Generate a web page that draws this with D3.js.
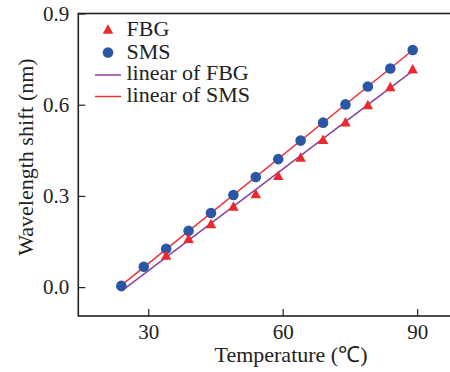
<!DOCTYPE html>
<html>
<head>
<meta charset="utf-8">
<script src="https://cdn.jsdelivr.net/npm/d3@7"></script>
<style>
  body { margin: 0; background: #fff; }
  text { font-family: "Liberation Serif", "Times New Roman", serif; fill: #222; }
</style>
</head>
<body>
<svg width="450" height="372"></svg>
<script>
// temperature (degC) and wavelength shift (nm)
var temps = [24, 29, 34, 39, 44, 49, 54, 59, 64, 69, 74, 79, 84, 89];
// FBG points at 24 and 29 are not visible in the figure
var fbg = [null, null, 0.106, 0.161, 0.209, 0.267, 0.308, 0.368, 0.428, 0.486, 0.544, 0.601, 0.660, 0.718];
var sms = [0.004, 0.067, 0.126, 0.185, 0.244, 0.303, 0.362, 0.421, 0.482, 0.541, 0.601, 0.660, 0.719, 0.780];
var xTicks = [30, 60, 90];
var yTicks = [0.0, 0.3, 0.6, 0.9];

var svg = d3.select("svg");
var mLeft = 78.3, mTop = 13.5, mBottom = 316, mRight = 462;

var x = d3.scaleLinear().domain([14.4, 100]).range([mLeft, mRight]);
var y = d3.scaleLinear().domain([-0.095, 0.9]).range([mBottom, mTop]);

// least squares fit (skips missing values)
function fit(xs, ys) {
  var pts = xs.map((v, i) => [v, ys[i]]).filter(p => p[1] != null);
  var mx = d3.mean(pts, p => p[0]), my = d3.mean(pts, p => p[1]);
  var sxy = d3.sum(pts, p => (p[0] - mx) * (p[1] - my));
  var sxx = d3.sum(pts, p => (p[0] - mx) * (p[0] - mx));
  var b = sxy / sxx;
  return { a: my - b * mx, b: b };
}

// axes (ticks inward)
svg.append("g")
  .attr("transform", "translate(0," + mBottom + ")")
  .call(d3.axisBottom(x).tickValues(xTicks).tickSize(-7).tickPadding(8).tickFormat(d3.format("d")))
  .call(g => g.select(".domain").remove())
  .call(g => g.selectAll("line").attr("stroke", "#222").attr("stroke-width", 1.2))
  .call(g => g.selectAll("text").attr("font-size", 21).style("font-family", "Liberation Serif").attr("fill", "#222"));

svg.append("g")
  .attr("transform", "translate(" + mLeft + ",0)")
  .call(d3.axisLeft(y).tickValues(yTicks).tickSize(-7).tickPadding(9).tickFormat(d3.format(".1f")))
  .call(g => g.select(".domain").remove())
  .call(g => g.selectAll("line").attr("stroke", "#222").attr("stroke-width", 1.2))
  .call(g => g.selectAll("text").attr("font-size", 21).style("font-family", "Liberation Serif").attr("fill", "#222"));

// frame
svg.append("rect")
  .attr("x", mLeft).attr("y", mTop)
  .attr("width", mRight - mLeft).attr("height", mBottom - mTop)
  .attr("fill", "none").attr("stroke", "#222").attr("stroke-width", 1.6);

// fit lines
var line = d3.line().x(d => x(d[0])).y(d => y(d[1]));
var ends = d3.extent(temps);
[[fbg, "#8b3f9c"], [sms, "#ee3035"]].forEach(function (s) {
  var f = fit(temps, s[0]);
  svg.append("path")
    .attr("d", line(ends.map(t => [t, f.a + f.b * t])))
    .attr("fill", "none").attr("stroke", s[1]).attr("stroke-width", 1.5);
});

// markers
function tri(cx, cy, w, h) {
  return "M" + cx + "," + (cy - h / 2) + "L" + (cx + w / 2) + "," + (cy + h / 2) + "L" + (cx - w / 2) + "," + (cy + h / 2) + "Z";
}
svg.append("g").selectAll("circle")
  .data(temps)
  .enter()
  .append("circle")
  .attr("cx", d => x(d))
  .attr("cy", (d, i) => y(sms[i]))
  .attr("r", 5.3)
  .attr("fill", "#2b56a6");

svg.append("g").selectAll("path")
  .data(temps.map((t, i) => [t, fbg[i]]).filter(d => d[1] != null))
  .enter()
  .append("path")
  .attr("d", d => tri(x(d[0]), y(d[1]), 10.5, 9.5))
  .attr("fill", "#ec2a2e");

// legend
var lg = svg.append("g");
lg.append("path").attr("d", tri(108, 29, 10.5, 9.5)).attr("fill", "#ec2a2e");
lg.append("circle").attr("cx", 108).attr("cy", 52.5).attr("r", 5.3).attr("fill", "#2b56a6");
lg.append("line").attr("x1", 95).attr("x2", 121).attr("y1", 75).attr("y2", 75).attr("stroke", "#8b3f9c").attr("stroke-width", 1.5);
lg.append("line").attr("x1", 95).attr("x2", 121).attr("y1", 96.5).attr("y2", 96.5).attr("stroke", "#ee3035").attr("stroke-width", 1.5);
var labels = ["FBG", "SMS", "linear of FBG", "linear of SMS"];
var baselines = [36, 59, 80, 102];
lg.selectAll("text")
  .data(labels)
  .enter()
  .append("text")
  .attr("x", 126.5)
  .attr("y", (d, i) => baselines[i])
  .attr("font-size", 22)
  .text(d => d);

// axis titles
svg.append("text")
  .attr("x", 291).attr("y", 362)
  .attr("text-anchor", "middle")
  .attr("font-size", 22)
  .text("Temperature (℃)");

svg.append("text")
  .attr("transform", "translate(33,157) rotate(-90)")
  .attr("text-anchor", "middle")
  .attr("font-size", 22)
  .text("Wavelength shift (nm)");
</script>
</body>
</html>
